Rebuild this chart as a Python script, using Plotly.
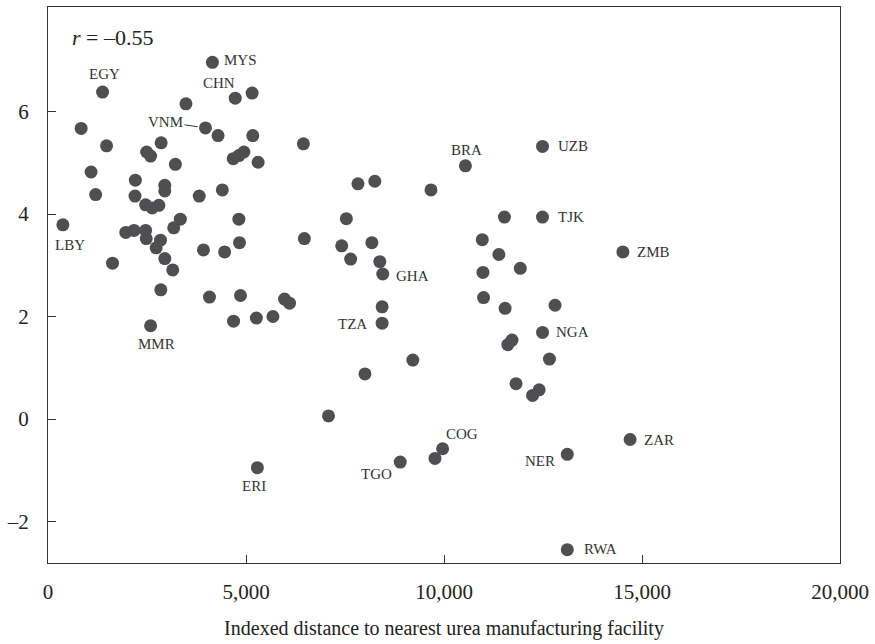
import plotly.graph_objects as go

# ---- data ----
distance = [376, 837, 1087, 1203, 1378, 1479, 1629, 1964, 2172, 2206, 2197, 2465, 2465, 2481,
            2491, 2591, 2591, 2631, 2731, 2799, 2841, 2857, 2849, 2949, 2949, 2949, 3150, 3175,
            3217, 3342, 3483, 3819, 3926, 3977, 4077, 4152, 4294, 4402, 4460, 4686, 4678, 4728,
            4820, 4820, 4836, 4861, 4946, 5154, 5171, 5262, 5287, 5306, 5680, 5973, 6099, 6449,
            6474, 7083, 7417, 7534, 7643, 7827, 8004, 8178, 8253, 8379, 8454, 8437, 8437, 8895,
            9213, 9672, 9772, 9965, 10541, 10967, 10984, 10999, 11385, 11526, 11543, 11611, 11718,
            11819, 11927, 12237, 12403, 12488, 12488, 12488, 12663, 12804, 13114, 13114, 14518, 14700]
value = [3.79, 5.67, 4.82, 4.38, 6.38, 5.33, 3.04, 3.64, 3.68, 4.66, 4.35, 4.18, 3.68, 3.52,
         5.21, 5.13, 1.82, 4.12, 3.34, 4.17, 3.49, 5.39, 2.52, 4.56, 4.45, 3.13, 2.91, 3.73,
         4.97, 3.90, 6.15, 4.35, 3.30, 5.68, 2.38, 6.96, 5.53, 4.47, 3.26, 1.91, 5.08, 6.26,
         5.14, 3.90, 3.44, 2.41, 5.21, 6.36, 5.53, 1.97, -0.95, 5.01, 2.00, 2.34, 2.26, 5.37,
         3.52, 0.06, 3.38, 3.91, 3.12, 4.59, 0.88, 3.44, 4.64, 3.07, 2.83, 2.19, 1.87, -0.84,
         1.15, 4.47, -0.77, -0.58, 4.94, 3.50, 2.86, 2.37, 3.21, 3.94, 2.16, 1.45, 1.54,
         0.69, 2.94, 0.46, 0.57, 5.32, 3.94, 1.69, 1.17, 2.22, -0.69, -2.55, 3.26, -0.40]
country = ["LBY", "", "", "", "EGY", "", "", "", "", "", "", "", "", "",
           "", "", "MMR", "", "", "", "", "", "", "", "", "", "", "",
           "", "", "", "", "", "VNM", "", "MYS", "", "", "", "", "", "CHN",
           "", "", "", "", "", "", "", "", "ERI", "", "", "", "", "",
           "", "", "", "", "", "", "", "", "", "", "GHA", "", "TZA", "TGO",
           "", "", "", "COG", "BRA", "", "", "", "", "", "", "", "",
           "", "", "", "", "UZB", "TJK", "NGA", "", "", "NER", "RWA", "ZMB", "ZAR"]
x_ticks = [0, 5000, 10000, 15000, 20000]
y_ticks = [-2, 0, 2, 4, 6]
y_tick_text = ["\u20132", "0", "2", "4", "6"]
r_text = "<i>r</i> = \u20130.55"
x_title = "Indexed distance to nearest urea manufacturing facility"

# ---- label placement (pixel offsets: xanchor, xshift, yshift) ----
label_place = {
    "LBY": ("center", 7, -20), "EGY": ("center", 2, 18), "MYS": ("left", 10, 2),
    "CHN": ("center", -16, 15), "MMR": ("center", 6, -18), "GHA": ("left", 11, -2),
    "TZA": ("right", -13, -1), "BRA": ("center", 1, 16), "UZB": ("left", 13, 0),
    "TJK": ("left", 13, 0), "ZMB": ("left", 12, 0), "NGA": ("left", 11, 0),
    "COG": ("center", 19, 15), "NER": ("right", -10, -7), "ZAR": ("left", 12, 0),
    "RWA": ("left", 15, 1), "TGO": ("right", -6, -12), "ERI": ("center", -3, -18),
}

FONT = "Liberation Serif, DejaVu Serif, Times New Roman, serif"
INK = "#333333"
DOT = "#4f4f52"

fig = go.Figure()
fig.add_trace(go.Scatter(
    x=distance, y=value, mode="markers",
    marker=dict(size=13, color=DOT, line=dict(width=0)),
    hoverinfo="skip", showlegend=False,
))

annotations = []
for xv, yv, c in zip(distance, value, country):
    if not c:
        continue
    if c == "VNM":
        annotations.append(dict(
            x=xv, y=yv, text=c, showarrow=True, arrowhead=0, arrowwidth=1,
            arrowcolor=INK, ax=-40, ay=-6, standoff=8,
            font=dict(family=FONT, size=15, color=INK),
        ))
        continue
    xa, xs, ys = label_place[c]
    annotations.append(dict(
        x=xv, y=yv, text=c, showarrow=False, xanchor=xa, yanchor="middle",
        xshift=xs, yshift=ys, font=dict(family=FONT, size=15, color=INK),
    ))

annotations.append(dict(
    xref="paper", yref="paper", x=0.028, y=0.945, text=r_text, showarrow=False,
    xanchor="left", yanchor="middle", font=dict(family=FONT, size=22, color="#222"),
))

fig.update_layout(
    width=875, height=644,
    margin=dict(l=48, r=30, t=6, b=81),
    plot_bgcolor="white", paper_bgcolor="white",
    font=dict(family=FONT, size=21, color="#222"),
    annotations=annotations,
    xaxis=dict(
        range=[0, 20000], tickvals=x_ticks, tickformat=",",
        showgrid=False, zeroline=False, showline=True, mirror=True,
        linecolor=INK, linewidth=1.2, ticks="inside", ticklen=8, tickcolor=INK,
        tickwidth=1.2, ticklabelstandoff=10,
        tickfont=dict(family=FONT, size=21, color="#222"),
        title=dict(text=x_title, font=dict(family=FONT, size=20, color="#222"), standoff=17),
    ),
    yaxis=dict(
        range=[-2.81, 8.04], tickvals=y_ticks, ticktext=y_tick_text,
        showgrid=False, zeroline=False, showline=True, mirror=True,
        linecolor=INK, linewidth=1.2, ticks="inside", ticklen=8, tickcolor=INK,
        tickwidth=1.2, ticklabelstandoff=14,
        tickfont=dict(family=FONT, size=21, color="#222"),
    ),
)

fig.write_html("out.html")
